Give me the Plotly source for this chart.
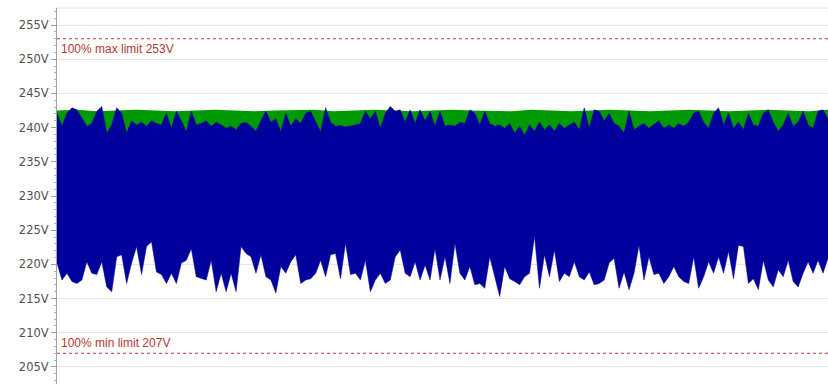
import plotly.graph_objects as go

# Phase voltage envelope per sample (V)
v_max = [
    242.1, 240.2, 242.1, 242.9, 242.6, 241.3, 240.2, 240.6, 242.4, 243.1,
    239.2, 240.4, 242.9, 242.1, 239.2, 241.0, 240.4, 240.8, 240.2, 241.0,
    240.6, 240.4, 242.1, 239.9, 242.4, 241.0, 239.4, 242.4, 240.4, 240.6,
    241.0, 240.2, 240.8, 240.4, 239.9, 240.2, 239.7, 240.6, 240.8, 240.2,
    239.5, 241.0, 242.4, 240.8, 241.3, 239.4, 242.1, 240.2, 241.3, 240.6,
    242.1, 242.4, 240.8, 239.4, 242.9, 240.8, 240.2, 240.3, 240.1, 240.2,
    240.4, 240.6, 242.4, 241.3, 242.4, 239.9, 242.1, 243.1, 242.4, 242.6,
    240.8, 242.6, 240.6, 242.6, 241.0, 242.4, 240.2, 242.4,
    240.2, 240.4, 240.2, 240.8, 240.6, 242.6, 242.1, 240.4, 242.4, 240.6,
    240.2, 240.4, 239.9, 240.6, 239.2, 240.2, 238.9, 240.4, 239.5, 240.8,
    239.7, 240.4, 239.5, 240.6, 239.9, 240.4, 240.8, 239.7, 242.9, 239.9,
    242.6, 242.4, 241.0, 242.1, 240.6, 240.2, 239.2, 242.4, 239.7, 240.2,
    240.6, 239.9, 240.4, 241.0, 239.9, 240.4, 239.9, 240.6, 240.2, 240.8,
    242.1, 242.4, 240.8, 239.9, 242.1, 242.9, 240.4, 242.1, 239.9, 240.8,
    239.7, 242.1, 240.4, 240.2, 242.1, 242.6, 240.8, 239.5, 240.4, 242.1,
    240.2, 240.8, 242.4, 240.4, 239.9, 242.4, 242.6, 241.3,
]
v_min = [
    220.2, 217.7, 218.7, 217.5, 217.2, 217.7, 220.4, 218.7, 218.5, 220.4,
    216.7, 216.0, 221.1, 221.4, 217.2, 220.2, 222.6, 218.5, 222.6, 223.3,
    218.9, 218.5, 217.2, 218.7, 217.2, 220.2, 220.6, 222.3, 218.2, 217.9,
    217.7, 220.6, 216.0, 218.7, 216.0, 218.7, 216.0, 222.6, 221.6, 221.1,
    218.7, 221.4, 218.2, 217.7, 215.8, 219.7, 218.7, 220.4, 221.4, 217.2,
    217.7, 217.9, 218.7, 220.6, 218.2, 221.4, 221.6, 217.9, 223.1, 218.5,
    218.7, 217.7, 220.6, 216.0, 217.7, 218.7, 217.2, 217.7, 221.1, 222.1,
    218.7, 218.2, 220.4, 217.7, 219.9, 217.7, 222.3, 217.7,
    221.1, 217.2, 223.1, 218.7, 217.7, 219.7, 217.0, 217.2, 216.5, 221.1,
    218.2, 215.3, 219.7, 217.9, 217.5, 217.0, 218.2, 218.7, 224.1, 216.5,
    221.4, 218.2, 222.1, 217.5, 218.7, 218.2, 220.4, 218.2, 217.7, 218.9,
    217.0, 217.2, 217.7, 220.2, 220.9, 216.5, 218.9, 216.3, 218.7, 222.8,
    217.7, 221.1, 218.5, 218.7, 217.2, 218.2, 219.7, 218.2, 217.5, 217.2,
    221.1, 216.5, 218.2, 220.4, 218.7, 221.1, 218.7, 221.9, 217.9, 222.8,
    222.6, 217.2, 217.9, 216.3, 220.6, 217.7, 216.7, 219.2, 218.2, 220.6,
    217.5, 216.7, 218.7, 220.4, 218.7, 220.6, 218.7, 220.9,
]
# Highest phase voltage, coarser sampling (V)
v_peak = [
    242.5, 242.6, 242.4, 242.5, 242.6, 242.5, 242.4, 242.5, 242.6, 242.5,
    242.4, 242.5, 242.5, 242.6, 242.4, 242.5, 242.6, 242.5, 242.4, 242.5,
    242.6, 242.5, 242.5, 242.4, 242.6, 242.5, 242.4, 242.5, 242.6, 242.5,
    242.4, 242.5, 242.6, 242.5, 242.4, 242.5, 242.6, 242.5, 242.4, 242.6,
]
peak_floor = 232.0

tick_vals = [205, 210, 215, 220, 225, 230, 235, 240, 245, 250, 255]
tick_text = ["205V", "210V", "215V", "220V", "225V", "230V",
             "235V", "240V", "245V", "250V", "255V"]

max_limit = 253
min_limit = 207
max_label = "100% max limit 253V"
min_label = "100% min limit 207V"

n = len(v_max)
xs = list(range(n))
step = (n - 1) / (len(v_peak) - 1)
xp = [i * step for i in range(len(v_peak))]

GREEN = "#009a00"
BLUE = "#00009c"
RED = "#c83232"

fig = go.Figure()

# Green envelope drawn underneath the blue band
fig.add_trace(go.Scatter(
    x=xp + xp[::-1], y=v_peak + [peak_floor] * len(xp),
    fill="toself", fillcolor=GREEN, mode="lines",
    line=dict(width=0, color=GREEN), hoverinfo="skip", showlegend=False,
))
# Blue band between minimum and maximum
fig.add_trace(go.Scatter(
    x=xs, y=v_min, mode="lines", line=dict(width=0.5, color=BLUE),
    hoverinfo="skip", showlegend=False,
))
fig.add_trace(go.Scatter(
    x=xs, y=v_max, mode="lines", line=dict(width=0.5, color=BLUE),
    fill="tonexty", fillcolor=BLUE, hoverinfo="skip", showlegend=False,
))

# Limit lines
for lim in (max_limit, min_limit):
    fig.add_shape(type="line", xref="paper", x0=0, x1=1, yref="y", y0=lim, y1=lim,
                  line=dict(color=RED, width=1, dash="dot"))

fig.add_annotation(x=0, xref="paper", y=max_limit, yref="y", text=max_label,
                   showarrow=False, xanchor="left", yanchor="top", xshift=2, yshift=-1,
                   font=dict(family="Liberation Sans", size=12, color="#b83535"))
fig.add_annotation(x=0, xref="paper", y=min_limit, yref="y", text=min_label,
                   showarrow=False, xanchor="left", yanchor="bottom", xshift=2, yshift=1,
                   font=dict(family="Liberation Sans", size=12, color="#b83535"))

# Top border of the plot area
fig.add_shape(type="line", xref="paper", x0=0, x1=1, yref="paper", y0=1, y1=1,
              line=dict(color="#e0e0e0", width=1))

fig.update_xaxes(visible=False, range=[0, n - 1])
fig.update_yaxes(
    range=[202.5, 257.5], tickmode="array", tickvals=tick_vals, ticktext=tick_text,
    showgrid=True, gridcolor="#e4e4e4", gridwidth=1,
    showline=True, linecolor="#a0a0a0", linewidth=1,
    ticks="outside", ticklen=5, tickcolor="#a0a0a0",
    minor=dict(dtick=1, tick0=0, ticks="outside", ticklen=2, tickcolor="#b0b0b0", showgrid=False),
    tickfont=dict(family="DejaVu Sans", size=11.5, color="#505050"),
    zeroline=False, fixedrange=True,
)

fig.update_layout(
    width=828, height=384,
    margin=dict(l=57, r=0, t=8, b=0),
    paper_bgcolor="white", plot_bgcolor="white",
    showlegend=False,
)

fig.write_html("out.html")
